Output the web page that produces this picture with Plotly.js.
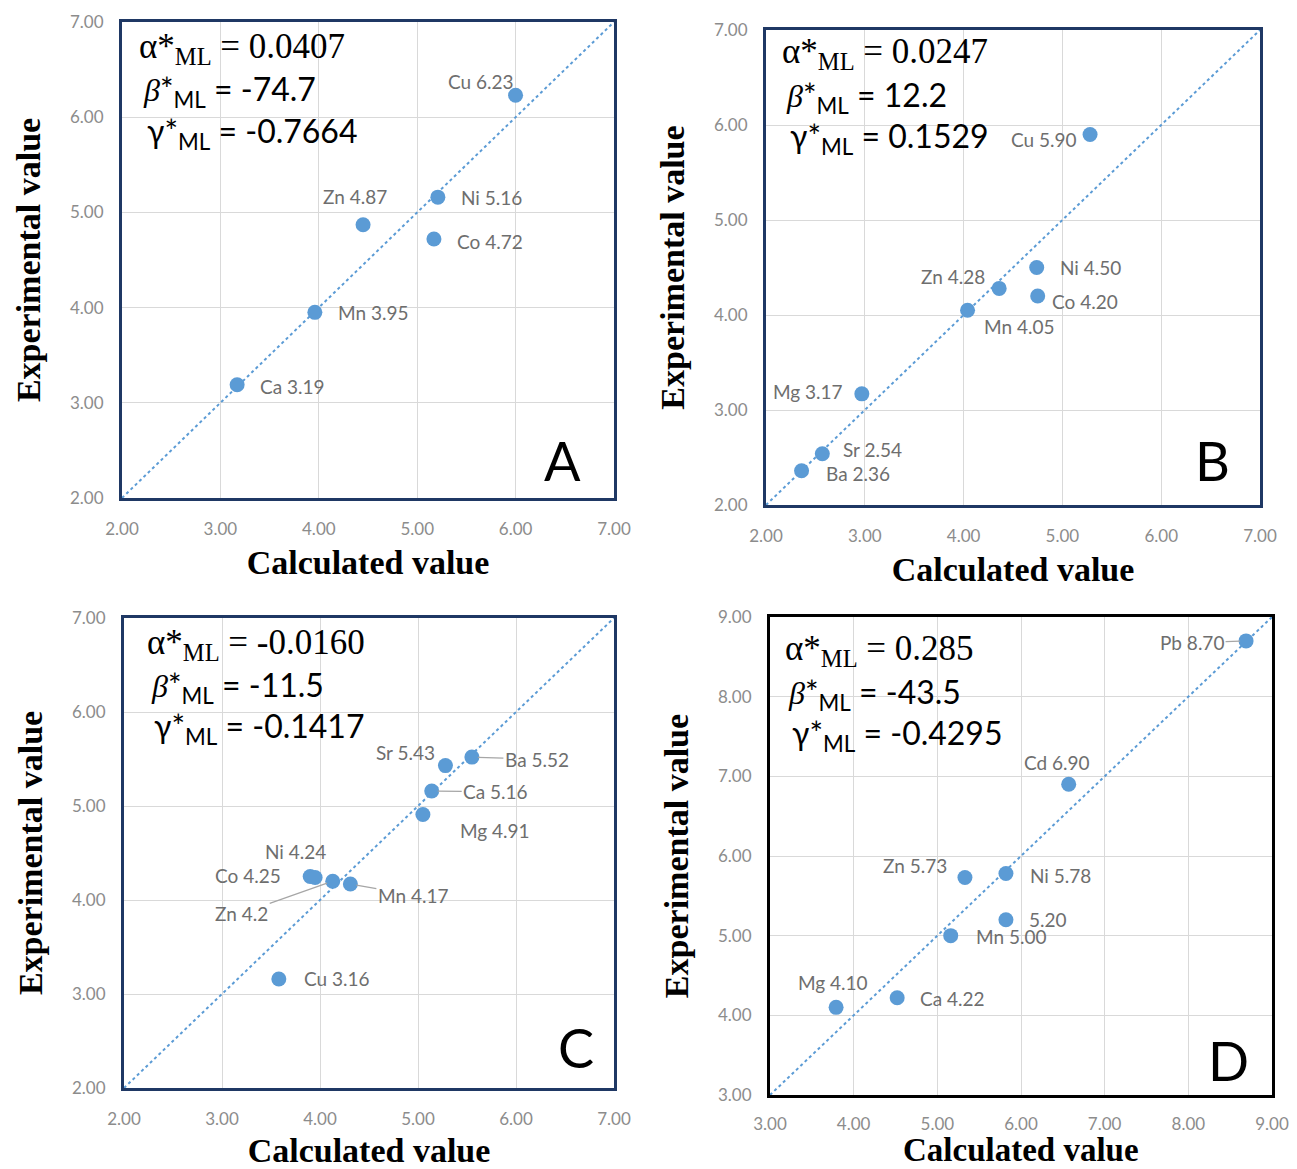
<!DOCTYPE html>
<html><head><meta charset="utf-8">
<script src="https://cdn.plot.ly/plotly-3.0.1.min.js"></script>
<style>html,body{margin:0;padding:0;background:#fff}</style>
</head><body>
<div id="chart" style="width:1297px;height:1169px"></div>
<script>
// ---------- DATA ----------
const panelA_labels = ['Ca 3.19','Mn 3.95','Zn 4.87','Co 4.72','Ni 5.16','Cu 6.23'];
const panelA_calc   = [3.17, 3.96, 4.45, 5.17, 5.21, 6.00];
const panelA_exp    = [3.19, 3.95, 4.87, 4.72, 5.16, 6.23];

const panelB_labels = ['Ba 2.36','Sr 2.54','Mg 3.17','Mn 4.05','Zn 4.28','Co 4.20','Ni 4.50','Cu 5.90'];
const panelB_calc   = [2.36, 2.57, 2.97, 4.04, 4.36, 4.75, 4.74, 5.28];
const panelB_exp    = [2.36, 2.54, 3.17, 4.05, 4.28, 4.20, 4.50, 5.90];

const panelC_labels = ['Cu 3.16','Co 4.25','Ni 4.24','Zn 4.2','Mn 4.17','Mg 4.91','Ca 5.16','Sr 5.43','Ba 5.52'];
const panelC_calc   = [3.58, 3.90, 3.95, 4.13, 4.31, 5.05, 5.14, 5.28, 5.55];
const panelC_exp    = [3.16, 4.25, 4.24, 4.20, 4.17, 4.91, 5.16, 5.43, 5.52];

const panelD_labels = ['Mg 4.10','Ca 4.22','Mn 5.00','5.20','Zn 5.73','Ni 5.78','Cd 6.90','Pb 8.70'];
const panelD_calc   = [3.79, 4.52, 5.16, 5.82, 5.33, 5.82, 6.57, 8.69];
const panelD_exp    = [4.10, 4.22, 5.00, 5.20, 5.73, 5.78, 6.90, 8.70];

const rangeABC = [2, 7];
const rangeD   = [3, 9];

const paramsA = ['0.0407', '-74.7', '-0.7664'];
const paramsB = ['0.0247', '12.2', '0.1529'];
const paramsC = ['-0.0160', '-11.5', '-0.1417'];
const paramsD = ['0.285', '-43.5', '-0.4295'];
const panelLetters = ['A', 'B', 'C', 'D'];
const xTitleText = 'Calculated value';
const yTitleText = 'Experimental value';

// ---------- STYLE / LAYOUT ----------
const W = 1297, H = 1169;
const px = x => x / W;
const py = y => 1 - y / H;
const BLUE = '#5B9BD5';
const LABEL_FONT = {family: 'Lato, "Open Sans", sans-serif', size: 19, color: '#6e6e6e'};

// plot-area boxes in pixels [left, right, top, bottom]
const boxes = [
  [122, 614, 22, 498],
  [766, 1260, 30, 505],
  [124, 614, 618, 1088],
  [770, 1272, 617, 1095]
];
const frameColors = ['#1F3864', '#1F3864', '#1F3864', '#000000'];
const xTickStandoff = [14, 14, 14, 12];

// label offsets (pixels: dx right, dy down), leader flag
const offA = [[55,2,0],[59,0,0],[-8,-28,0],[56,2,0],[54,0,0],[-35,-14,0]];
const offB = [[56,3,0],[50,-4,0],[-54,-2,0],[52,16,0],[-46,-12,0],[47,5,0],[54,0,0],[-46,5,0]];
const offC = [[58,0,0],[-62,-1,0],[-20,-26,0],[-91,32,1],[63,11,1],[72,16,0],[64,1,1],[-40,-13,0],[65,2,1]];
const offD = [[-3,-25,0],[55,1,0],[61,1,0],[42,0,0],[-50,-12,0],[55,2,0],[-12,-22,0],[-54,2,1]];

const panels = [
  {labels: panelA_labels, calc: panelA_calc, exp: panelA_exp, range: rangeABC, params: paramsA, off: offA},
  {labels: panelB_labels, calc: panelB_calc, exp: panelB_exp, range: rangeABC, params: paramsB, off: offB},
  {labels: panelC_labels, calc: panelC_calc, exp: panelC_exp, range: rangeABC, params: paramsC, off: offC},
  {labels: panelD_labels, calc: panelD_calc, exp: panelD_exp, range: rangeD, params: paramsD, off: offD}
];

const paramPos = [
  [[137, 48], [141, 91], [145, 133]],
  [[780, 54], [784, 97], [788, 138]],
  [[145, 644], [149, 687], [152, 728]],
  [[783, 651], [786, 694], [790, 735]]
];
const letterPos = [[562, 460], [1212, 460], [576, 1047], [1228, 1060]];
// D's x title is free text at the page's lower edge (an axis title there is clamped onto the tick labels)
const dTitleX = 1021;

const traces = [];
const annotations = [];
const layout = {
  width: W, height: H,
  margin: {l: 0, r: 0, t: 0, b: 0},
  paper_bgcolor: '#ffffff', plot_bgcolor: '#ffffff',
  showlegend: false,
  font: {family: 'Lato, sans-serif'}
};
const TITLE_FONT = {family: '"Liberation Serif", "Times New Roman", serif', size: 34, color: '#000', weight: 'bold'};

panels.forEach((p, i) => {
  const n = i === 0 ? '' : String(i + 1);
  const xa = 'x' + n, ya = 'y' + n;
  const b = boxes[i];
  const axBase = {
    range: p.range, dtick: 1, tickformat: '.2f',
    showgrid: true, gridcolor: '#d9d9d9', gridwidth: 1,
    zeroline: false,
    showline: true, mirror: true, linecolor: frameColors[i], linewidth: 3,
    ticks: '', tickfont: {family: 'Lato, "Open Sans", sans-serif', size: 17, color: '#8c8c8c'},
    fixedrange: true, automargin: false
  };
  layout['xaxis' + n] = Object.assign({}, axBase, {
    domain: [px(b[0]), px(b[1])], anchor: ya,
    ticklabelstandoff: xTickStandoff[i],
    title: {text: i === 3 ? '' : xTitleText, standoff: 12, font: TITLE_FONT}
  });
  layout['yaxis' + n] = Object.assign({}, axBase, {
    domain: [py(b[3]), py(b[2])], anchor: xa,
    ticklabelstandoff: 12,
    title: {text: yTitleText, standoff: 20, font: TITLE_FONT}
  });

  // 1:1 dotted line
  traces.push({
    x: p.range, y: p.range, xaxis: xa, yaxis: ya, type: 'scatter', mode: 'lines',
    line: {color: BLUE, width: 2, dash: 'dot'}, hoverinfo: 'skip'
  });
  // points
  traces.push({
    x: p.calc, y: p.exp, xaxis: xa, yaxis: ya, type: 'scatter', mode: 'markers',
    marker: {color: BLUE, size: 15}, text: p.labels, hoverinfo: 'text'
  });
  // point labels
  p.labels.forEach((lab, k) => {
    const o = p.off[k];
    if (o[2]) {
      annotations.push({
        xref: xa, yref: ya, x: p.calc[k], y: p.exp[k], text: lab,
        showarrow: true, arrowhead: 0, arrowwidth: 1.2, arrowcolor: '#a6a6a6',
        ax: o[0], ay: o[1], standoff: 6, font: LABEL_FONT
      });
    } else {
      annotations.push({
        xref: xa, yref: ya, x: p.calc[k], y: p.exp[k], text: lab,
        showarrow: false, xshift: o[0], yshift: -o[1], font: LABEL_FONT
      });
    }
  });
  // parameter block
  const pp = paramPos[i];
  const serif = '"Liberation Serif", "Times New Roman", serif';
  const sans = 'Lato, "Open Sans", sans-serif';
  annotations.push({
    xref: 'paper', yref: 'paper', x: px(pp[0][0]), y: py(pp[0][1]), xanchor: 'left', yanchor: 'middle',
    showarrow: false, font: {family: serif, size: 35, color: '#000'},
    text: 'α*<sub>ML</sub> = ' + p.params[0]
  });
  annotations.push({
    xref: 'paper', yref: 'paper', x: px(pp[1][0]), y: py(pp[1][1]), xanchor: 'left', yanchor: 'middle',
    showarrow: false, font: {family: sans, size: 32, color: '#000'},
    text: '<span style="font-family:Liberation Serif;font-style:italic">β</span>*<sub>ML</sub> = ' + p.params[1]
  });
  annotations.push({
    xref: 'paper', yref: 'paper', x: px(pp[2][0]), y: py(pp[2][1]), xanchor: 'left', yanchor: 'middle',
    showarrow: false, font: {family: sans, size: 32, color: '#000'},
    text: 'γ*<sub>ML</sub> = ' + p.params[2]
  });
  // panel letter
  annotations.push({
    xref: 'paper', yref: 'paper', x: px(letterPos[i][0]), y: py(letterPos[i][1]),
    xanchor: 'center', yanchor: 'middle', showarrow: false,
    font: {family: sans, size: 54, color: '#000'}, text: panelLetters[i]
  });
});

annotations.push({
  xref: 'paper', yref: 'paper', x: px(dTitleX), y: 0,
  xanchor: 'center', yanchor: 'bottom', showarrow: false, borderpad: 0,
  font: Object.assign({}, TITLE_FONT, {size: 33}), text: xTitleText
});

layout.annotations = annotations;
Plotly.newPlot('chart', traces, layout, {displayModeBar: false, staticPlot: true});
</script>
</body></html>
